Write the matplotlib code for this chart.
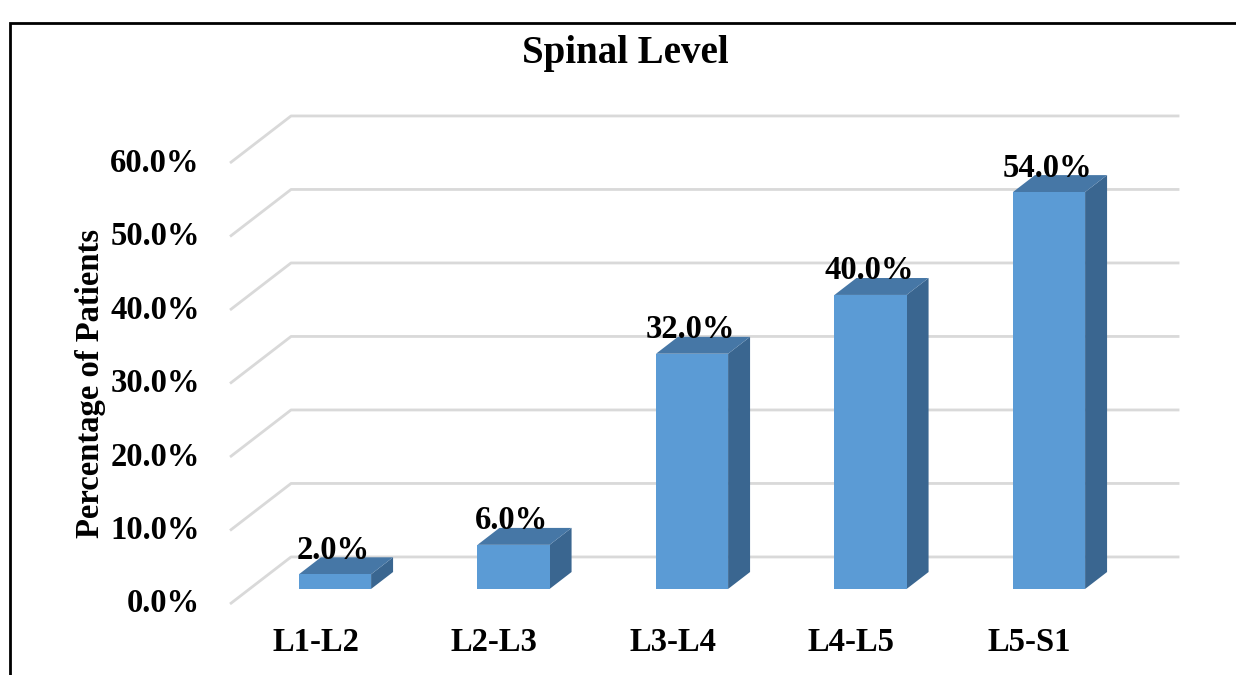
import matplotlib
matplotlib.use("Agg")
import matplotlib.pyplot as plt
from matplotlib.patches import Polygon, Rectangle

# chart data
levels = ["L1-L2", "L2-L3", "L3-L4", "L4-L5", "L5-S1"]
percent = [2.0, 6.0, 32.0, 40.0, 54.0]
yticks = [0, 10, 20, 30, 40, 50, 60]

title = "Spinal Level"
ylabel = "Percentage of Patients"

# fake 3d geometry (in data units)
DX = 0.342      # depth offset along x for full depth
DY = 6.4        # depth offset along y for full depth
Z0, Z1 = 0.32, 0.68
HALF_W = 0.202
FLOOR_LEFT = -0.479
WALL_RIGHT = 4.84

FRONT = "#5B9BD5"
TOP = "#4677A6"
SIDE = "#3A6690"
GRID = "#D9D9D9"
FS = 23.5

plt.rcParams['font.family'] = ['Liberation Serif', 'DejaVu Serif']
plt.rcParams['font.weight'] = 'bold'

fig = plt.figure(figsize=(12.36, 6.75), dpi=100)
ax = fig.add_axes([137 / 1236, 12.2 / 675, 1071 / 1236, 573.3 / 675])
ax.set_xlim(-1, 5)
ax.set_ylim(-8, 70)
ax.axis('off')

# grid: diagonal on the side wall + horizontal on the back wall
for v in yticks:
    ax.plot([FLOOR_LEFT, FLOOR_LEFT + DX, WALL_RIGHT], [v, v + DY, v + DY],
            color=GRID, lw=2, zorder=1, solid_capstyle='butt')
    ax.text(FLOOR_LEFT - 0.17, v, '%.1f%%' % v, ha='right', va='center',
            fontsize=FS, fontweight='bold', clip_on=False)

ddx = DX * (Z1 - Z0)
ddy = DY * (Z1 - Z0)
for i, (name, val) in enumerate(zip(levels, percent)):
    cx = i + Z0 * DX
    x0, x1 = cx - HALF_W, cx + HALF_W
    y0 = Z0 * DY
    y1 = y0 + val
    ax.add_patch(Polygon([(x1, y0), (x1, y1), (x1 + ddx, y1 + ddy), (x1 + ddx, y0 + ddy)],
                         closed=True, fc=SIDE, ec='none', zorder=3))
    ax.add_patch(Polygon([(x0, y1), (x1, y1), (x1 + ddx, y1 + ddy), (x0 + ddx, y1 + ddy)],
                         closed=True, fc=TOP, ec='none', zorder=3))
    ax.add_patch(Rectangle((x0, y0), x1 - x0, val, fc=FRONT, ec='none', zorder=4))
    ax.text(cx - 0.01, y1 + ddy - 0.2, '%.1f%%' % val, ha='center', va='baseline',
            fontsize=FS, fontweight='bold', zorder=6)
    ax.text(i, -5.3, name, ha='center', va='center', fontsize=FS,
            fontweight='bold', clip_on=False)

ax.text(-1.263, 30.0, ylabel, rotation=90, ha='center', va='center',
        fontsize=FS, fontweight='bold', clip_on=False)

fig.text(625 / 1236, 1 - 54 / 675, title, ha='center', va='center',
         fontsize=28, fontweight='bold')

# outer frame (cut at right and bottom edges)
fig.add_artist(Rectangle((10 / 1236, -0.05), 1.2, (675 - 23) / 675 + 0.05,
                         transform=fig.transFigure, fill=False, ec='black', lw=2))

fig.savefig('out.png', dpi=100)
